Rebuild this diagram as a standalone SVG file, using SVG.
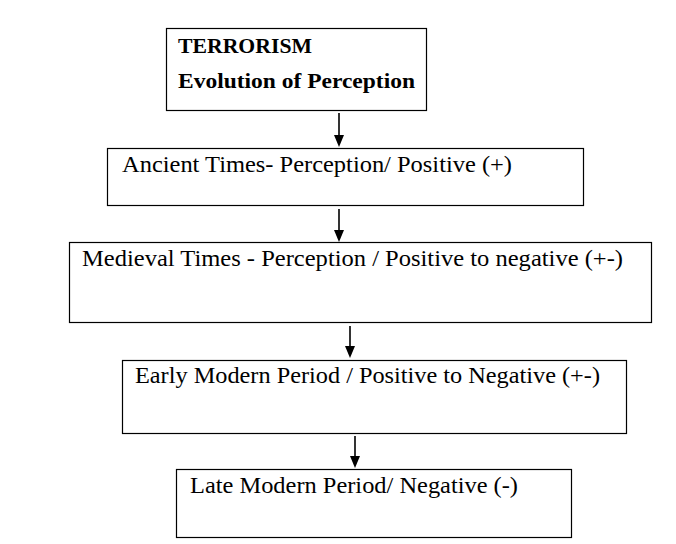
<svg xmlns="http://www.w3.org/2000/svg" width="676" height="544" viewBox="0 0 676 544">
<style>
.box{fill:#fff;stroke:#000;stroke-width:1.2}
text{font-family:'Liberation Serif','DejaVu Serif',serif;font-size:24px;fill:#000}
.b{font-weight:bold;font-size:22px}
.con{stroke:#000;stroke-width:1.6;fill:none}
</style>
<rect width="676" height="544" fill="#fff"/>
<g id="n1">
<rect class="box" x="166.5" y="28.5" width="260" height="82"/>
<text class="b" x="178" y="53" textLength="134" lengthAdjust="spacingAndGlyphs">TERRORISM</text>
<text class="b" x="178" y="88" textLength="237" lengthAdjust="spacingAndGlyphs">Evolution of Perception</text>
</g>
<g id="n2">
<rect class="box" x="107.5" y="148.5" width="476" height="57"/>
<text x="122" y="172" textLength="390" lengthAdjust="spacingAndGlyphs">Ancient Times- Perception/ Positive (+)</text>
</g>
<g id="n3">
<rect class="box" x="69.5" y="242.5" width="582" height="80"/>
<text x="82" y="266" textLength="541" lengthAdjust="spacingAndGlyphs">Medieval Times - Perception / Positive to negative (+-)</text>
</g>
<g id="n4">
<rect class="box" x="122.5" y="360.5" width="504" height="73"/>
<text x="135" y="383" textLength="465" lengthAdjust="spacingAndGlyphs">Early Modern Period / Positive to Negative (+-)</text>
</g>
<g id="n5">
<rect class="box" x="176.5" y="469.5" width="395" height="68"/>
<text x="190" y="493" textLength="328" lengthAdjust="spacingAndGlyphs">Late Modern Period/ Negative (-)</text>
</g>
<g id="connectors">
<path class="con" d="M339,113 L339,136"/>
<path d="M334,135 L344,135 L339,147 Z" fill="#000"/>
<path class="con" d="M339,209 L339,231"/>
<path d="M334,230 L344,230 L339,242 Z" fill="#000"/>
<path class="con" d="M350,326 L350,347"/>
<path d="M345,346 L355,346 L350,358 Z" fill="#000"/>
<path class="con" d="M355,436 L355,457"/>
<path d="M350,456 L360,456 L355,468 Z" fill="#000"/>
</g>
</svg>
